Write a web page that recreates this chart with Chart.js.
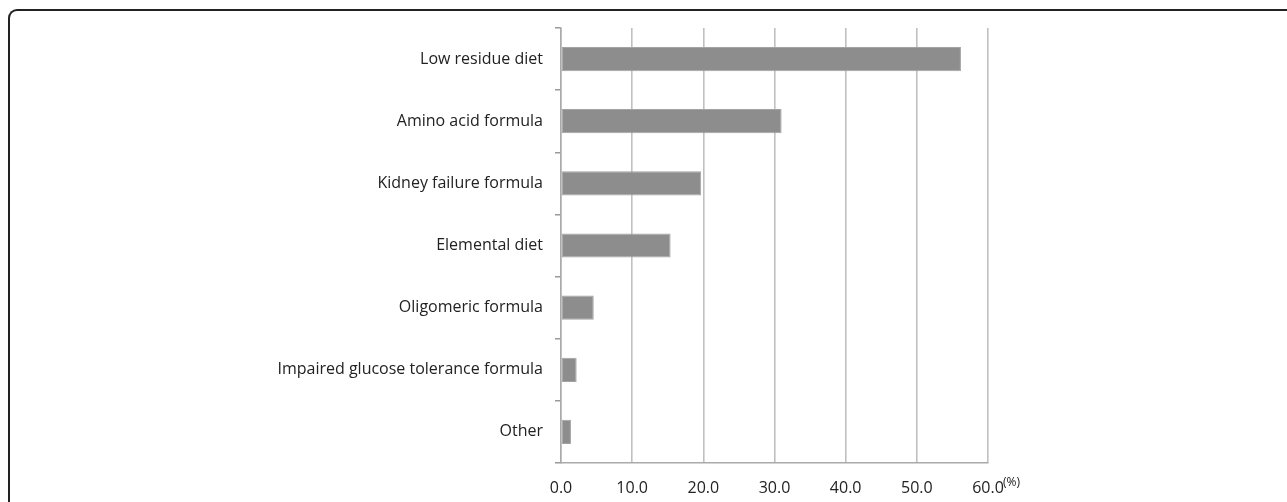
<!DOCTYPE html>
<html>
<head>
<meta charset="utf-8">
<script src="https://cdn.jsdelivr.net/npm/chart.js@4.4.0/dist/chart.umd.min.js"></script>
<style>
  html, body { margin: 0; padding: 0; background: #fff; }
  #wrap { position: relative; width: 1287px; height: 502px; overflow: hidden; }
  #frame {
    position: absolute; left: 8px; top: 9px; width: 1300px; height: 520px;
    border-left: 2px solid #222; border-top: 2px solid #222;
    border-top-left-radius: 9px; box-sizing: border-box;
  }
  #myChart { position: absolute; left: 0; top: 0; }
</style>
</head>
<body>
<div id="wrap">
  <div id="frame"></div>
  <canvas id="myChart" width="1287" height="502"></canvas>
</div>
<script>
const categories = [
  'Low residue diet',
  'Amino acid formula',
  'Kidney failure formula',
  'Elemental diet',
  'Oligomeric formula',
  'Impaired glucose tolerance formula',
  'Other'
];
const percents = [56.2, 31.0, 19.7, 15.4, 4.6, 2.2, 1.4];
const xTicks = [0, 10, 20, 30, 40, 50, 60];
const unitLabel = '(%)';

const fontFamily = "'Open Sans', 'Noto Sans', sans-serif";

// draws the "(%)" next to the last x tick label
const unitPlugin = {
  id: 'unitLabel',
  afterDraw(chart) {
    const x = chart.scales.x;
    const ctx = chart.ctx;
    ctx.save();
    ctx.font = '12px ' + fontFamily;
    ctx.fillStyle = '#222';
    ctx.textAlign = 'left';
    ctx.textBaseline = 'middle';
    ctx.fillText(unitLabel, x.getPixelForValue(xTicks[xTicks.length - 1]) + 15, x.top + 20);
    ctx.restore();
  }
};

const ctx = document.getElementById('myChart').getContext('2d');
const myChart = new Chart(ctx, {
  type: 'bar',
  data: {
    labels: categories,
    datasets: [{
      data: percents,
      backgroundColor: '#8d8d8d',
      borderColor: '#a3a3a3',
      borderWidth: 1,
      borderSkipped: false,
      barPercentage: 0.39,
      categoryPercentage: 1
    }]
  },
  options: {
    indexAxis: 'y',
    responsive: false,
    animation: false,
    layout: { padding: { left: 0, right: 299, top: 28, bottom: 0 } },
    plugins: {
      legend: { display: false },
      tooltip: { enabled: false }
    },
    scales: {
      x: {
        min: 0,
        max: 60,
        afterBuildTicks(scale) {
          scale.ticks = xTicks.map(v => ({ value: v }));
        },
        afterFit(scale) { scale.height = 39; },
        grid: { color: '#c0c0c0', lineWidth: 1.6, drawTicks: false },
        border: { display: true, color: '#aaaaaa', width: 1.5 },
        ticks: {
          padding: 16,
          color: '#222',
          font: { family: fontFamily, size: 16 },
          callback: v => v.toFixed(1)
        }
      },
      y: {
        afterFit(scale) { scale.width = 561; },
        grid: { drawOnChartArea: false, tickLength: 6, color: '#999999', lineWidth: 1.5 },
        border: { display: true, color: '#aaaaaa', width: 1.5 },
        ticks: {
          padding: 12,
          color: '#222',
          font: { family: fontFamily, size: 16 }
        }
      }
    }
  },
  plugins: [unitPlugin]
});
</script>
</body>
</html>
